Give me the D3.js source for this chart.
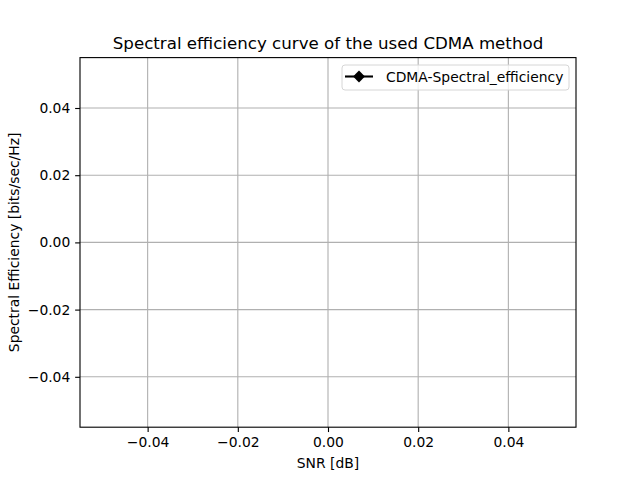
<!DOCTYPE html>
<html>
<head>
<meta charset="utf-8">
<script src="https://cdn.jsdelivr.net/npm/d3@7"></script>
<style>
  body { margin: 0; background: #fff; }
  text { font-family: "DejaVu Sans", sans-serif; }
</style>
</head>
<body>
<div id="chart"></div>
<script>
// the series is empty in the reference, so the axes fall back to default limits
var snrValues = [];
var spectralEfficiency = [];
var xTicks = [-0.04, -0.02, 0.00, 0.02, 0.04];
var yTicks = [-0.04, -0.02, 0.00, 0.02, 0.04];
var xDomain = [-0.055, 0.055];
var yDomain = [-0.055, 0.055];
var seriesName = "CDMA-Spectral_efficiency";

var width = 640, height = 480;
var plotL = 80, plotR = 576, plotT = 57.6, plotB = 427.2;
var pt = 100 / 72;

var svg = d3.select("#chart").append("svg")
    .attr("width", width)
    .attr("height", height);

var x = d3.scaleLinear().domain(xDomain).range([plotL, plotR]);
var y = d3.scaleLinear().domain(yDomain).range([plotB, plotT]);

// grid
svg.append("g").selectAll("line").data(xTicks).join("line")
    .attr("x1", d => x(d)).attr("x2", d => x(d))
    .attr("y1", plotT).attr("y2", plotB)
    .style("stroke", "#b0b0b0").style("stroke-width", (0.8 * pt) + "px");

svg.append("g").selectAll("line").data(yTicks).join("line")
    .attr("x1", plotL).attr("x2", plotR)
    .attr("y1", d => y(d)).attr("y2", d => y(d))
    .style("stroke", "#b0b0b0").style("stroke-width", (0.8 * pt) + "px");

// data line (empty)
var pts = snrValues.map((v, i) => [v, spectralEfficiency[i]]);
svg.append("path")
    .datum(pts)
    .attr("d", d3.line().x(d => x(d[0])).y(d => y(d[1])))
    .style("fill", "none").style("stroke", "#000").style("stroke-width", (1.5 * pt) + "px");

svg.append("g").selectAll("path").data(pts).join("path")
    .attr("transform", d => "translate(" + x(d[0]) + "," + y(d[1]) + ")")
    .attr("d", d3.symbol(d3.symbolDiamond2, 90))
    .style("fill", "#000");

// axes
var fmt = d3.format(".2f");
var xAxis = d3.axisBottom(x).tickValues(xTicks).tickSizeInner(3.5 * pt).tickSizeOuter(0)
    .tickPadding(3.5 * pt).tickFormat(fmt);
var yAxis = d3.axisLeft(y).tickValues(yTicks).tickSizeInner(3.5 * pt).tickSizeOuter(0)
    .tickPadding(3.5 * pt).tickFormat(fmt);

var gx = svg.append("g").attr("transform", "translate(0," + plotB + ")").call(xAxis);
var gy = svg.append("g").attr("transform", "translate(" + plotL + ",0)").call(yAxis);

[gx, gy].forEach(g => {
    g.select(".domain").remove();
    g.selectAll(".tick line").style("stroke", "#000").style("stroke-width", (0.8 * pt) + "px");
    g.selectAll(".tick text")
        .style("font-family", "DejaVu Sans")
        .style("font-size", (10 * pt) + "px")
        .style("fill", "#000")
        .text(d => fmt(d).replace("-", "\u2212"));
});

// frame
svg.append("rect")
    .attr("x", plotL).attr("y", plotT)
    .attr("width", plotR - plotL).attr("height", plotB - plotT)
    .style("fill", "none").style("stroke", "#000").style("stroke-width", (0.8 * pt) + "px");

// labels
svg.append("text")
    .attr("x", (plotL + plotR) / 2).attr("y", plotT - 8.3)
    .attr("text-anchor", "middle")
    .style("font-size", (12 * pt) + "px")
    .text("Spectral efficiency curve of the used CDMA method");

svg.append("text")
    .attr("x", (plotL + plotR) / 2).attr("y", 468)
    .attr("text-anchor", "middle")
    .style("font-size", (10 * pt) + "px")
    .text("SNR [dB]");

svg.append("text")
    .attr("transform", "translate(18.5," + ((plotT + plotB) / 2) + ") rotate(-90)")
    .attr("text-anchor", "middle")
    .style("font-size", (10 * pt) + "px")
    .text("Spectral Efficiency [bits/sec/Hz]");

// legend
var lg = svg.append("g");
lg.append("rect")
    .attr("x", 342).attr("y", 65).attr("width", 227).attr("height", 25)
    .attr("rx", 3)
    .style("fill", "#fff").style("fill-opacity", 0.8)
    .style("stroke", "#d6d6d6").style("stroke-width", "1px");
lg.append("line")
    .attr("x1", 345).attr("x2", 373).attr("y1", 76.5).attr("y2", 76.5)
    .style("stroke", "#000").style("stroke-width", (1.5 * pt) + "px");
lg.append("path")
    .attr("transform", "translate(359,76.5)")
    .attr("d", d3.symbol(d3.symbolDiamond2, 90))
    .style("fill", "#000");
lg.append("text")
    .attr("x", 386).attr("y", 81.5)
    .style("font-size", (10 * pt) + "px")
    .text(seriesName);
</script>
</body>
</html>
